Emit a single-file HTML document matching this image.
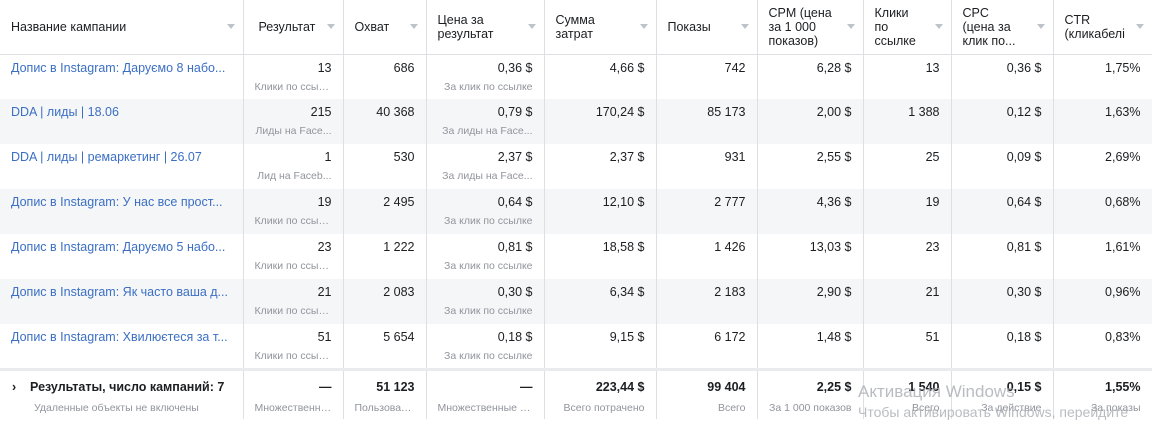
<!DOCTYPE html>
<html><head><meta charset="utf-8"><style>
body{margin:0;width:1152px;height:421px;overflow:hidden;background:#fff;font-family:"Liberation Sans","DejaVu Sans",sans-serif;color:#1c1e21;position:relative}
table{border-collapse:collapse;table-layout:fixed;width:1152px;position:absolute;left:0;top:0}
td,th{border-right:1px solid #dddfe2;padding:0 11px 0 11px;overflow:hidden;white-space:nowrap;vertical-align:top;position:relative}
th{height:54px;border-bottom:1px solid #dddfe2;text-align:left;font-weight:normal;font-size:12.5px;line-height:14px;vertical-align:middle;padding-right:4px;white-space:nowrap;box-sizing:border-box}
th::after{content:"";position:absolute;right:8px;top:24px;border-left:4px solid transparent;border-right:4px solid transparent;border-top:5px solid #bec3c9}
tr.r td{height:45px;font-size:12.5px;text-align:right;padding-top:6px;box-sizing:border-box}
tr.g td{background:#f5f6f7}
td .s{display:block;font-size:10.5px;color:#90949c;margin-top:6px;overflow:hidden;text-overflow:ellipsis}
td.n{text-align:left!important;color:#3b6fc4;text-overflow:ellipsis}
tr.t td{height:50px;border-top:3px solid #e9ebee;font-size:12.5px;font-weight:bold;text-align:right;padding-top:9px;box-sizing:border-box}
tr.t td .s{font-weight:normal;margin-top:8px}
.wm{position:absolute;left:858px;top:382px;color:#a8acb2;font-size:17px;opacity:.8}
.wm2{position:absolute;left:858px;top:404px;color:#a8acb2;font-size:14px;opacity:.8;white-space:nowrap}
</style></head><body>
<table>
<colgroup><col style="width:243px"><col style="width:100px"><col style="width:83px"><col style="width:118px"><col style="width:112px"><col style="width:101px"><col style="width:106px"><col style="width:88px"><col style="width:102px"><col style="width:99px"></colgroup>
<tr><th>Название кампании</th><th style="padding-left:15px">Результат</th><th>Охват</th><th>Цена за<br>результат</th><th>Сумма<br>затрат</th><th>Показы</th><th>CPM (цена<br>за 1 000<br>показов)</th><th>Клики<br>по<br>ссылке</th><th>CPC<br>(цена за<br>клик по...</th><th>CTR<br>(кликабелі</th></tr>
<tr class="r"><td class="n">Допис в Instagram: Даруємо 8 набо...</td><td>13<span class="s">Клики по ссыл...</span></td><td>686</td><td>0,36 $<span class="s">За клик по ссылке</span></td><td>4,66 $</td><td>742</td><td>6,28 $</td><td>13</td><td>0,36 $</td><td>1,75%</td></tr>
<tr class="r g"><td class="n">DDA | лиды | 18.06</td><td>215<span class="s">Лиды на Face...</span></td><td>40 368</td><td>0,79 $<span class="s">За лиды на Face...</span></td><td>170,24 $</td><td>85 173</td><td>2,00 $</td><td>1 388</td><td>0,12 $</td><td>1,63%</td></tr>
<tr class="r"><td class="n">DDA | лиды | ремаркетинг | 26.07</td><td>1<span class="s">Лид на Faceb...</span></td><td>530</td><td>2,37 $<span class="s">За лиды на Face...</span></td><td>2,37 $</td><td>931</td><td>2,55 $</td><td>25</td><td>0,09 $</td><td>2,69%</td></tr>
<tr class="r g"><td class="n">Допис в Instagram: У нас все прост...</td><td>19<span class="s">Клики по ссыл...</span></td><td>2 495</td><td>0,64 $<span class="s">За клик по ссылке</span></td><td>12,10 $</td><td>2 777</td><td>4,36 $</td><td>19</td><td>0,64 $</td><td>0,68%</td></tr>
<tr class="r"><td class="n">Допис в Instagram: Даруємо 5 набо...</td><td>23<span class="s">Клики по ссыл...</span></td><td>1 222</td><td>0,81 $<span class="s">За клик по ссылке</span></td><td>18,58 $</td><td>1 426</td><td>13,03 $</td><td>23</td><td>0,81 $</td><td>1,61%</td></tr>
<tr class="r g"><td class="n">Допис в Instagram: Як часто ваша д...</td><td>21<span class="s">Клики по ссыл...</span></td><td>2 083</td><td>0,30 $<span class="s">За клик по ссылке</span></td><td>6,34 $</td><td>2 183</td><td>2,90 $</td><td>21</td><td>0,30 $</td><td>0,96%</td></tr>
<tr class="r"><td class="n">Допис в Instagram: Хвилюєтеся за т...</td><td>51<span class="s">Клики по ссыл...</span></td><td>5 654</td><td>0,18 $<span class="s">За клик по ссылке</span></td><td>9,15 $</td><td>6 172</td><td>1,48 $</td><td>51</td><td>0,18 $</td><td>0,83%</td></tr>
<tr class="t"><td style="text-align:left;padding-left:12px">›&nbsp;&nbsp;&nbsp;&nbsp;Результаты, число кампаний: 7<span class="s" style="padding-left:22px">Удаленные объекты не включены</span></td><td>—<span class="s">Множественны...</span></td><td>51 123<span class="s">Пользовате...</span></td><td>—<span class="s">Множественные к...</span></td><td>223,44 $<span class="s">Всего потрачено</span></td><td>99 404<span class="s">Всего</span></td><td>2,25 $<span class="s">За 1 000 показов</span></td><td>1 540<span class="s">Всего</span></td><td>0,15 $<span class="s">За действие</span></td><td>1,55%<span class="s">За показы</span></td></tr>
</table>
<div class="wm">Активация Windows</div>
<div class="wm2">Чтобы активировать Windows, перейдите</div>
</body></html>
